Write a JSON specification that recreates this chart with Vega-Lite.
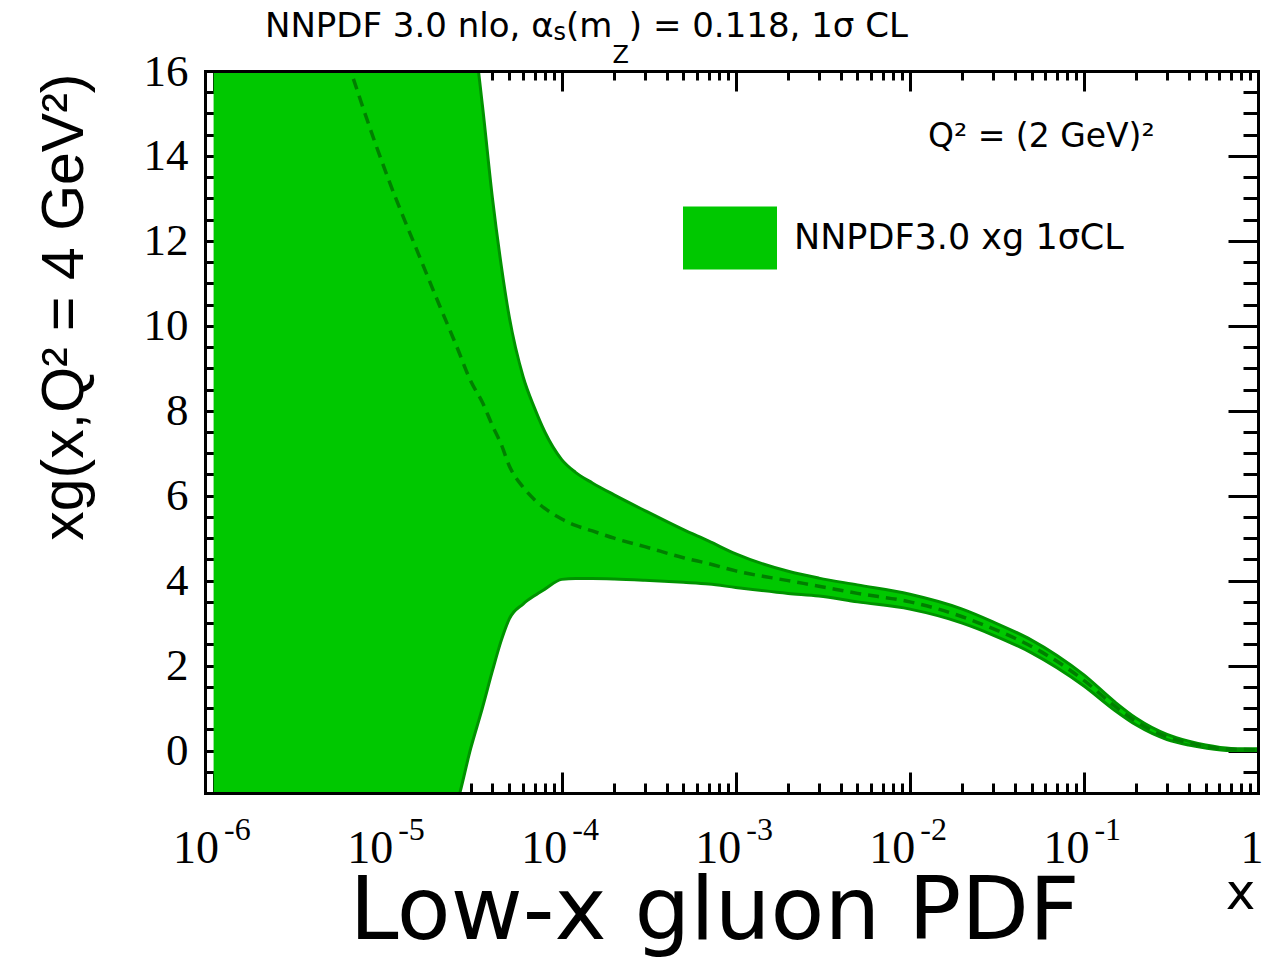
{
  "$schema": "https://vega.github.io/schema/vega-lite/v6.json",
  "width": 1053,
  "height": 722,
  "autosize": {"type": "none"},
  "padding": {"left": 205, "top": 71, "right": 10, "bottom": 172},
  "background": "white",
  "config": {
    "view": {"stroke": null},
    "axis": {"grid": false, "domainColor": "black", "tickColor": "black", "labelColor": "black", "titleColor": "black", "titleFontWeight": "normal", "domainCap": "square"}
  },
  "data": {"values": [
    {"x": 1e-6, "lo": -20, "mid": 35, "hi": 60},
    {"x": 2e-6, "lo": -15, "mid": 25, "hi": 45},
    {"x": 5e-6, "lo": -8, "mid": 17.2, "hi": 32},
    {"x": 7e-6, "lo": -6.5, "mid": 15.3, "hi": 28},
    {"x": 1e-5, "lo": -5, "mid": 13.5, "hi": 25},
    {"x": 1.5e-5, "lo": -3.2, "mid": 11.7, "hi": 21},
    {"x": 2e-5, "lo": -2.2, "mid": 10.45, "hi": 19.5},
    {"x": 2.5e-5, "lo": -1.25, "mid": 9.5, "hi": 18.5},
    {"x": 3e-5, "lo": 0.05, "mid": 8.7, "hi": 17.4},
    {"x": 3.5e-5, "lo": 1.0, "mid": 8.2, "hi": 15.2},
    {"x": 4e-5, "lo": 1.88, "mid": 7.65, "hi": 13.0},
    {"x": 4.5e-5, "lo": 2.6, "mid": 7.2, "hi": 11.4},
    {"x": 5e-5, "lo": 3.1, "mid": 6.7, "hi": 10.2},
    {"x": 6e-5, "lo": 3.45, "mid": 6.2, "hi": 8.8},
    {"x": 7e-5, "lo": 3.65, "mid": 5.9, "hi": 8.05},
    {"x": 8e-5, "lo": 3.8, "mid": 5.7, "hi": 7.5},
    {"x": 1e-4, "lo": 4.03, "mid": 5.45, "hi": 6.85},
    {"x": 1.2e-4, "lo": 4.05, "mid": 5.3, "hi": 6.55},
    {"x": 1.5e-4, "lo": 4.05, "mid": 5.17, "hi": 6.3},
    {"x": 2e-4, "lo": 4.04, "mid": 5.0, "hi": 6.02},
    {"x": 3e-4, "lo": 4.01, "mid": 4.8, "hi": 5.65},
    {"x": 5e-4, "lo": 3.96, "mid": 4.54, "hi": 5.2},
    {"x": 7e-4, "lo": 3.92, "mid": 4.4, "hi": 4.93},
    {"x": 1e-3, "lo": 3.84, "mid": 4.23, "hi": 4.63},
    {"x": 2e-3, "lo": 3.7, "mid": 4.0, "hi": 4.22},
    {"x": 3e-3, "lo": 3.64, "mid": 3.87, "hi": 4.06},
    {"x": 5e-3, "lo": 3.5, "mid": 3.7, "hi": 3.9},
    {"x": 1e-2, "lo": 3.33, "mid": 3.5, "hi": 3.68},
    {"x": 2e-2, "lo": 3.0, "mid": 3.15, "hi": 3.33},
    {"x": 3e-2, "lo": 2.72, "mid": 2.87, "hi": 3.03},
    {"x": 5e-2, "lo": 2.3, "mid": 2.45, "hi": 2.6},
    {"x": 7e-2, "lo": 1.95, "mid": 2.1, "hi": 2.24},
    {"x": 0.1, "lo": 1.52, "mid": 1.65, "hi": 1.78},
    {"x": 0.15, "lo": 0.95, "mid": 1.05, "hi": 1.15},
    {"x": 0.2, "lo": 0.6, "mid": 0.68, "hi": 0.76},
    {"x": 0.3, "lo": 0.26, "mid": 0.32, "hi": 0.38},
    {"x": 0.4, "lo": 0.13, "mid": 0.18, "hi": 0.22},
    {"x": 0.5, "lo": 0.06, "mid": 0.1, "hi": 0.13},
    {"x": 0.7, "lo": 0.0, "mid": 0.03, "hi": 0.05},
    {"x": 1, "lo": 0.0, "mid": 0.02, "hi": 0.04}
  ]},
  "resolve": {"axis": {"x": "independent", "y": "independent"}},
  "layer": [
    {
      "mark": {"type": "area", "clip": true, "opacity": 1, "fillOpacity": 1, "interpolate": "monotone"},
      "encoding": {
        "x": {"field": "x", "type": "quantitative",
          "scale": {"type": "log", "domain": [8.926e-7, 1], "nice": false},
          "axis": {"orient": "bottom", "values": [1e-6, 1e-5, 1e-4, 0.001, 0.01, 0.1, 1],
            "labelExpr": "datum.value >= 1 ? '1' : '10'", "ticks": false, "domain": true, "domainWidth": 3,
            "labelFont": "Liberation Serif", "labelFontSize": 46, "labelAlign": "right", "labelOffset": 5,
            "labelBaseline": "alphabetic", "labelPadding": 69, "labelFlush": false, "labelOverlap": false, "labelBound": false,
            "title": "Low-x gluon PDF", "titleFont": "DejaVu Sans", "titleFontSize": 88, "titleX": 509, "titleY": 145,
            "titleAlign": "center", "titleBaseline": "alphabetic", "zindex": 1}},
        "y": {"field": "lo", "type": "quantitative",
          "scale": {"domain": [-1, 16], "nice": false, "zero": false},
          "axis": {"orient": "left", "values": [0, 2, 4, 6, 8, 10, 12, 14, 16], "ticks": false, "domain": true, "domainWidth": 3,
            "labelFont": "Liberation Serif", "labelFontSize": 45, "labelPadding": 17, "labelBaseline": "middle", "labelAlign": "right",
            "labelFlush": false, "labelOverlap": false, "labelBound": false,
            "title": "xg(x,Q² = 4 GeV²)", "titleFont": "Liberation Sans", "titleFontSize": 59, "titleAngle": 270,
            "titleX": -123, "titleY": 2, "titleAlign": "right", "titleBaseline": "alphabetic", "zindex": 1}},
        "y2": {"field": "hi"},
        "fill": {"datum": "NNPDF3.0 xg 1σCL", "type": "nominal",
          "scale": {"range": ["#00c800"]},
          "legend": {"orient": "none", "legendX": 478, "legendY": 120, "title": null, "padding": 0,
            "symbolType": "M-1,-0.67H1V0.67H-1Z", "symbolSize": 8836, "symbolStrokeWidth": 0, "symbolOpacity": 1,
            "labelFont": "DejaVu Sans", "labelFontSize": 35, "labelOffset": 17, "labelLimit": 0, "labelColor": "black"}}
      }
    },
    {
      "mark": {"type": "line", "clip": true, "stroke": "#009300", "strokeWidth": 3, "interpolate": "monotone"},
      "encoding": {
        "x": {"field": "x", "type": "quantitative",
          "scale": {"type": "log", "domain": [8.926e-7, 1], "nice": false},
          "axis": {"orient": "bottom", "values": [1e-6, 1e-5, 1e-4, 0.001, 0.01, 0.1, 1],
            "labelExpr": "datum.value >= 1 ? '' : '-' + round(-log(datum.value)/LN10)", "ticks": false, "domain": false,
            "labelFont": "Liberation Serif", "labelFontSize": 32, "labelAlign": "left", "labelOffset": 10,
            "labelBaseline": "alphabetic", "labelPadding": 46, "labelFlush": false, "labelOverlap": false, "labelBound": false,
            "title": null, "zindex": 1}},
        "y": {"field": "lo", "type": "quantitative",
          "scale": {"domain": [-1, 16], "nice": false, "zero": false},
          "axis": {"orient": "left", "values": [0, 2, 4, 6, 8, 10, 12, 14, 16], "labels": false, "domain": false,
            "ticks": true, "tickSize": -30, "tickWidth": 3, "title": null, "zindex": 0}}
      }
    },
    {
      "mark": {"type": "line", "clip": true, "stroke": "#009300", "strokeWidth": 3, "interpolate": "monotone"},
      "encoding": {
        "x": {"field": "x", "type": "quantitative",
          "scale": {"type": "log", "domain": [8.926e-7, 1], "nice": false},
          "axis": {"orient": "bottom", "values": [1e-6, 1e-5, 1e-4, 0.001, 0.01, 0.1, 1], "labels": false, "domain": false,
            "ticks": true, "tickSize": -21, "tickWidth": 3,
            "title": "x", "titleFont": "DejaVu Sans", "titleFontSize": 50, "titleX": 1035, "titleY": 115,
            "titleAlign": "center", "titleBaseline": "alphabetic", "zindex": 0}},
        "y": {"field": "hi", "type": "quantitative",
          "scale": {"domain": [-1, 16], "nice": false, "zero": false},
          "axis": {"orient": "left", "values": [-0.5, 0.5, 1, 1.5, 2.5, 3, 3.5, 4.5, 5, 5.5, 6.5, 7, 7.5, 8.5, 9, 9.5, 10.5, 11, 11.5, 12.5, 13, 13.5, 14.5, 15, 15.5],
            "labels": false, "domain": false, "ticks": true, "tickSize": -15, "tickWidth": 3, "title": null, "zindex": 0}}
      }
    },
    {
      "mark": {"type": "line", "clip": true, "stroke": "#007f00", "strokeWidth": 3.5, "strokeDash": [11, 7], "interpolate": "monotone"},
      "encoding": {
        "x": {"field": "x", "type": "quantitative",
          "scale": {"type": "log", "domain": [8.926e-7, 1], "nice": false},
          "axis": {"orient": "bottom", "values": [2e-6, 3e-6, 4e-6, 5e-6, 6e-6, 7e-6, 8e-6, 9e-6, 2e-5, 3e-5, 4e-5, 5e-5, 6e-5, 7e-5, 8e-5, 9e-5, 2e-4, 3e-4, 4e-4, 5e-4, 6e-4, 7e-4, 8e-4, 9e-4, 0.002, 0.003, 0.004, 0.005, 0.006, 0.007, 0.008, 0.009, 0.02, 0.03, 0.04, 0.05, 0.06, 0.07, 0.08, 0.09, 0.2, 0.3, 0.4, 0.5, 0.6, 0.7, 0.8, 0.9],
            "labels": false, "domain": false, "ticks": true, "tickSize": -10, "tickWidth": 3, "title": null, "zindex": 0}},
        "y": {"field": "mid", "type": "quantitative",
          "scale": {"domain": [-1, 16], "nice": false, "zero": false},
          "axis": {"orient": "right", "labels": false, "ticks": false, "domain": true, "domainWidth": 3, "title": null, "zindex": 1}}
      }
    },
    {
      "data": {"values": [{}]},
      "mark": {"type": "text", "text": "Q² = (2 GeV)²", "font": "DejaVu Sans", "fontSize": 33, "align": "left", "baseline": "alphabetic", "color": "black"},
      "encoding": {
        "x": {"datum": 0.0127, "type": "quantitative",
          "scale": {"type": "log", "domain": [8.926e-7, 1], "nice": false},
          "axis": {"orient": "top", "labels": false, "ticks": false, "domain": true, "domainWidth": 3, "title": null, "zindex": 1}},
        "y": {"datum": 14.21, "type": "quantitative",
          "scale": {"domain": [-1, 16], "nice": false, "zero": false},
          "axis": {"orient": "right", "values": [0, 2, 4, 6, 8, 10, 12, 14, 16], "labels": false, "domain": false,
            "ticks": true, "tickSize": -30, "tickWidth": 3, "title": null, "zindex": 0}}
      }
    },
    {
      "data": {"values": [{}]},
      "mark": {"type": "text", "text": "NNPDF 3.0 nlo, α", "font": "DejaVu Sans", "fontSize": 34, "align": "left", "baseline": "alphabetic", "color": "black"},
      "encoding": {
        "x": {"datum": 1.9729e-6, "type": "quantitative",
          "scale": {"type": "log", "domain": [8.926e-7, 1], "nice": false},
          "axis": {"orient": "top", "values": [1e-6, 1e-5, 1e-4, 0.001, 0.01, 0.1, 1], "labels": false, "domain": false,
            "ticks": true, "tickSize": -20, "tickWidth": 3, "title": null, "zindex": 0}},
        "y": {"datum": 16.8, "type": "quantitative",
          "scale": {"domain": [-1, 16], "nice": false, "zero": false},
          "axis": {"orient": "right", "values": [-0.5, 0.5, 1, 1.5, 2.5, 3, 3.5, 4.5, 5, 5.5, 6.5, 7, 7.5, 8.5, 9, 9.5, 10.5, 11, 11.5, 12.5, 13, 13.5, 14.5, 15, 15.5],
            "labels": false, "domain": false, "ticks": true, "tickSize": -15, "tickWidth": 3, "title": null, "zindex": 0}}
      }
    },
    {
      "data": {"values": [{}]},
      "mark": {"type": "text", "text": "s", "font": "DejaVu Sans", "fontSize": 24, "align": "left", "baseline": "alphabetic", "color": "black"},
      "encoding": {
        "x": {"datum": 8.979e-5, "type": "quantitative",
          "scale": {"type": "log", "domain": [8.926e-7, 1], "nice": false},
          "axis": {"orient": "top", "values": [2e-6, 3e-6, 4e-6, 5e-6, 6e-6, 7e-6, 8e-6, 9e-6, 2e-5, 3e-5, 4e-5, 5e-5, 6e-5, 7e-5, 8e-5, 9e-5, 2e-4, 3e-4, 4e-4, 5e-4, 6e-4, 7e-4, 8e-4, 9e-4, 0.002, 0.003, 0.004, 0.005, 0.006, 0.007, 0.008, 0.009, 0.02, 0.03, 0.04, 0.05, 0.06, 0.07, 0.08, 0.09, 0.2, 0.3, 0.4, 0.5, 0.6, 0.7, 0.8, 0.9],
            "labels": false, "domain": false, "ticks": true, "tickSize": -9, "tickWidth": 3, "title": null, "zindex": 0}},
        "y": {"datum": 16.73, "type": "quantitative", "scale": {"domain": [-1, 16], "nice": false, "zero": false}, "axis": null}
      }
    },
    {
      "data": {"values": [{}]},
      "mark": {"type": "text", "text": "(m", "font": "DejaVu Sans", "fontSize": 34, "align": "left", "baseline": "alphabetic", "color": "black"},
      "encoding": {
        "x": {"datum": 1.0594e-4, "type": "quantitative", "scale": {"type": "log", "domain": [8.926e-7, 1], "nice": false}, "axis": null},
        "y": {"datum": 16.8, "type": "quantitative", "scale": {"domain": [-1, 16], "nice": false, "zero": false}, "axis": null}
      }
    },
    {
      "data": {"values": [{}]},
      "mark": {"type": "text", "text": "Z", "font": "DejaVu Sans", "fontSize": 24, "align": "left", "baseline": "alphabetic", "color": "black"},
      "encoding": {
        "x": {"datum": 1.9563e-4, "type": "quantitative", "scale": {"type": "log", "domain": [8.926e-7, 1], "nice": false}, "axis": null},
        "y": {"datum": 16.19, "type": "quantitative", "scale": {"domain": [-1, 16], "nice": false, "zero": false}, "axis": null}
      }
    },
    {
      "data": {"values": [{}]},
      "mark": {"type": "text", "text": ") = 0.118,  1σ CL", "font": "DejaVu Sans", "fontSize": 34, "align": "left", "baseline": "alphabetic", "color": "black"},
      "encoding": {
        "x": {"datum": 2.43e-4, "type": "quantitative", "scale": {"type": "log", "domain": [8.926e-7, 1], "nice": false}, "axis": null},
        "y": {"datum": 16.8, "type": "quantitative", "scale": {"domain": [-1, 16], "nice": false, "zero": false}, "axis": null}
      }
    }
  ]
}
